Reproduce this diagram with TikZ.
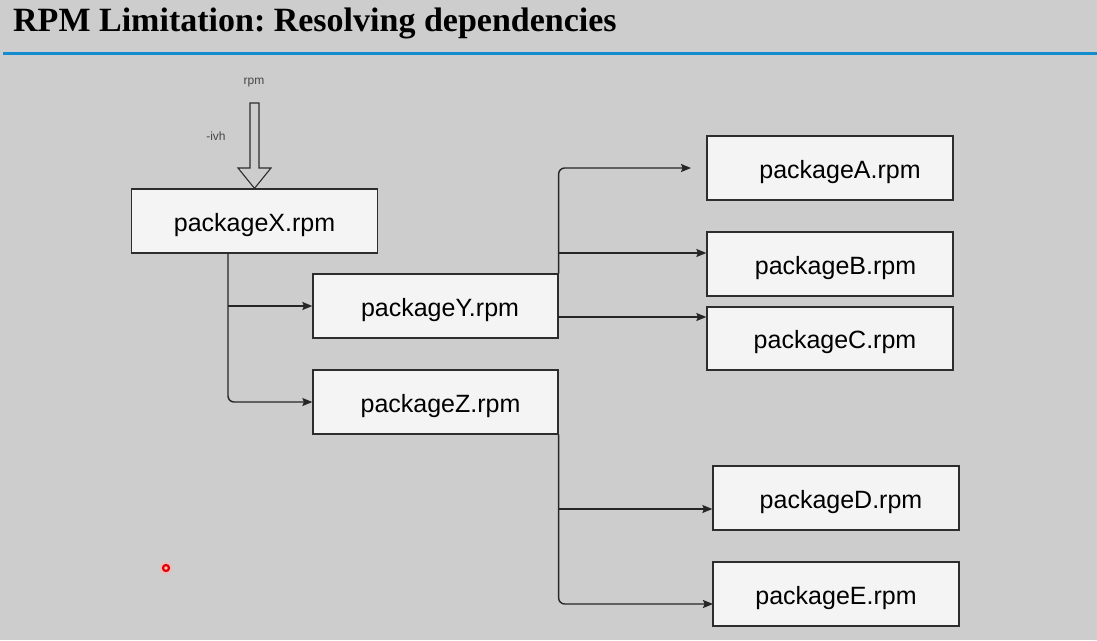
\documentclass[tikz,border=0pt]{standalone}
\usepackage{fontspec}
\setmainfont{Liberation Sans}
\newfontfamily\titlefont{Liberation Serif}
\usetikzlibrary{arrows.meta}
\definecolor{bg}{RGB}{205,205,205}
\definecolor{boxfill}{RGB}{244,244,244}
\definecolor{boxline}{RGB}{45,45,45}
\definecolor{blueline}{RGB}{20,140,205}
\definecolor{smalltext}{RGB}{70,70,70}
\frenchspacing
\tikzset{
  pkgbox/.style={draw=boxline, fill=boxfill, line width=1.3pt, minimum width=246pt, minimum height=64pt, inner sep=0pt, text height=21.5pt, text depth=1.5pt, font=\fontsize{25}{30}\selectfont},
  conn/.style={draw=black!85, line width=1.4pt, -{Stealth[length=10pt,width=8pt,inset=1.5pt]}},
  smalllbl/.style={font=\fontsize{12}{14}\selectfont, text=smalltext, inner sep=0pt}
}
\begin{document}
\begin{tikzpicture}[x=1pt,y=-1pt]
\useasboundingbox (0,0) rectangle (1097,640);
\fill[bg] (0,0) rectangle (1097,640);
% title
\node[anchor=base west, inner sep=0pt] (title) at (13,31) {\titlefont\bfseries\fontsize{34}{40}\selectfont RPM Limitation: Resolving dependencies};
\draw[blueline, line width=3pt] (3,53.5) -- (1097,53.5);
% boxes
\node[pkgbox] (X) at (254.5,221) {packageX.rpm};
\node[pkgbox, minimum width=245pt] (Y) at (435.5,306) {\hspace*{9pt}packageY.rpm};
\node[pkgbox, minimum width=245pt] (Z) at (435.5,402) {\hspace*{10pt}packageZ.rpm};
\node[pkgbox] (A) at (830,168) {\hspace*{20pt}packageA.rpm};
\node[pkgbox] (B) at (830,264) {\hspace*{11pt}packageB.rpm};
\node[pkgbox, minimum height=63pt] (C) at (830,338.5) {\hspace*{10pt}packageC.rpm};
\node[pkgbox] (D) at (836,498) {\hspace*{10pt}packageD.rpm};
\node[pkgbox] (E) at (836,594) {packageE.rpm};
% block arrow rpm -ivh
\draw[boxline, line width=1.1pt, fill=bg, line join=miter]
  (250,103) -- (259,103) -- (259,168) -- (271,168) -- (X.north) -- (238,168) -- (250,168) -- cycle;
\node[smalllbl] (rpmlbl) at (254,83) {rpm};
\node[smalllbl] (ivh) at (216,136) {-ivh};
% connectors from X
\coordinate (xs) at (228,253);
\coordinate (xy) at (228,306);
\draw[conn, rounded corners=6pt] (xs) |- (Z.west);
\draw[conn] (xy) -- (Y.west);
% connectors from Y
\coordinate (aend) at (691,168);
\coordinate (bs) at (558,253);
\coordinate (cs) at (558,317);
\draw[conn, rounded corners=6pt] (Y.north east) |- (aend);
\draw[conn] (bs) -- (bs -| B.west);
\draw[conn] (cs) -- (cs -| C.west);
% connectors from Z
\coordinate (ds) at (558,509);
\coordinate (ee) at (713,604);
\draw[conn, rounded corners=6pt] (Z.south east) |- (ee);
\draw[conn] (ds) -- (ds -| D.west);
% pointer dot
\fill[red!30, opacity=0.5] (166,568) circle (6.5pt);
\draw[red!90!black, line width=2.2pt, fill=pink] (166,568) circle (3pt);
\end{tikzpicture}
\end{document}
